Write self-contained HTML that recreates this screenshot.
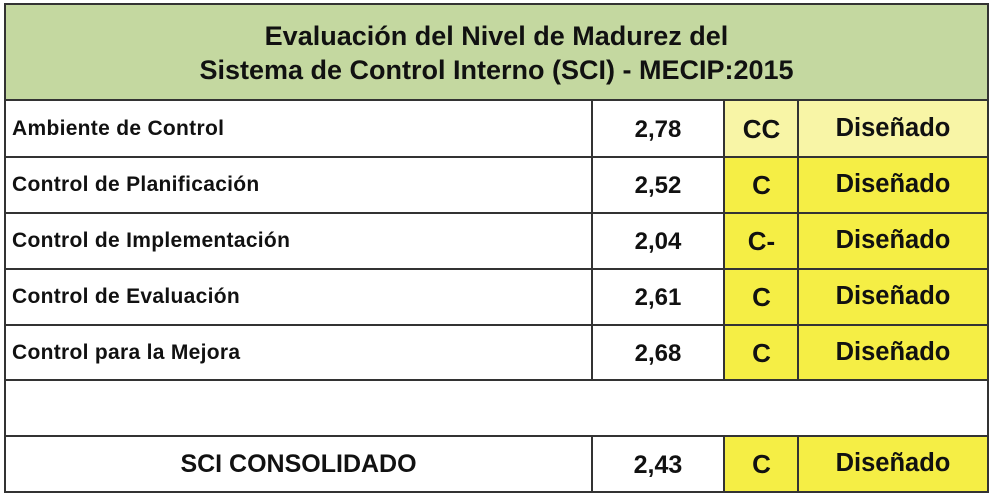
<!DOCTYPE html>
<html><head><meta charset="utf-8"><style>
body{margin:0;width:995px;height:497px;background:#fff;font-family:"Liberation Sans",sans-serif;font-weight:bold;color:#111;position:relative;overflow:hidden}
.b{position:absolute;box-sizing:border-box}
.t{position:absolute;white-space:nowrap}
</style></head><body>
<div class="b" style="left:4px;top:3px;width:985px;height:98px;background:#c4d8a0;border:2px solid #333"></div>
<div class="t" style="left:4px;width:985px;top:19px;text-align:center;font-size:27px;line-height:34px">Evaluación del Nivel de Madurez del<br>Sistema de Control Interno (SCI) - MECIP:2015</div>
<div class="b" style="left:4px;top:99px;width:985px;height:394px;border:2px solid #333;border-top:none"></div>
<div class="b" style="left:724px;top:101px;width:74px;height:55px;background:#f8f5a6"></div>
<div class="b" style="left:798px;top:101px;width:189px;height:55px;background:#f8f5a6"></div>
<div class="b" style="left:724px;top:156px;width:263px;height:224px;background:#f5ee45"></div>
<div class="b" style="left:724px;top:436px;width:263px;height:55px;background:#f5ee45"></div>
<div class="b" style="left:4px;top:156px;width:985px;height:2px;background:#333"></div>
<div class="b" style="left:4px;top:212px;width:985px;height:2px;background:#333"></div>
<div class="b" style="left:4px;top:268px;width:985px;height:2px;background:#333"></div>
<div class="b" style="left:4px;top:324px;width:985px;height:2px;background:#333"></div>
<div class="b" style="left:4px;top:379px;width:985px;height:2px;background:#333"></div>
<div class="b" style="left:4px;top:435px;width:985px;height:2px;background:#333"></div>
<div class="b" style="left:591px;top:100px;width:2px;height:281px;background:#333"></div>
<div class="b" style="left:723px;top:100px;width:2px;height:281px;background:#333"></div>
<div class="b" style="left:797px;top:100px;width:2px;height:281px;background:#333"></div>
<div class="b" style="left:591px;top:436px;width:2px;height:56px;background:#333"></div>
<div class="b" style="left:723px;top:436px;width:2px;height:56px;background:#333"></div>
<div class="b" style="left:797px;top:436px;width:2px;height:56px;background:#333"></div>
<div class="t" style="left:12px;top:117px;font-size:21px;letter-spacing:0.3px">Ambiente de Control</div>
<div class="t" style="left:12px;top:173px;font-size:21px;letter-spacing:0.3px">Control de Planificación</div>
<div class="t" style="left:12px;top:229px;font-size:21px;letter-spacing:0.3px">Control de Implementación</div>
<div class="t" style="left:12px;top:285px;font-size:21px;letter-spacing:0.3px">Control de Evaluación</div>
<div class="t" style="left:12px;top:341px;font-size:21px;letter-spacing:0.3px">Control para la Mejora</div>
<div class="t" style="left:6px;width:585px;text-align:center;top:450px;font-size:25px">SCI CONSOLIDADO</div>
<div class="t" style="left:593px;width:130px;text-align:center;top:116px;font-size:24px">2,78</div>
<div class="t" style="left:593px;width:130px;text-align:center;top:172px;font-size:24px">2,52</div>
<div class="t" style="left:593px;width:130px;text-align:center;top:228px;font-size:24px">2,04</div>
<div class="t" style="left:593px;width:130px;text-align:center;top:284px;font-size:24px">2,61</div>
<div class="t" style="left:593px;width:130px;text-align:center;top:340px;font-size:24px">2,68</div>
<div class="t" style="left:593px;width:130px;text-align:center;top:451px;font-size:25px">2,43</div>
<div class="t" style="left:725px;width:73px;text-align:center;top:114px;font-size:26px">CC</div>
<div class="t" style="left:725px;width:73px;text-align:center;top:170px;font-size:26px">C</div>
<div class="t" style="left:725px;width:73px;text-align:center;top:226px;font-size:26px">C-</div>
<div class="t" style="left:725px;width:73px;text-align:center;top:282px;font-size:26px">C</div>
<div class="t" style="left:725px;width:73px;text-align:center;top:338px;font-size:26px">C</div>
<div class="t" style="left:725px;width:73px;text-align:center;top:449px;font-size:26px">C</div>
<div class="t" style="left:799px;width:188px;text-align:center;top:114px;font-size:25.5px">Diseñado</div>
<div class="t" style="left:799px;width:188px;text-align:center;top:170px;font-size:25.5px">Diseñado</div>
<div class="t" style="left:799px;width:188px;text-align:center;top:226px;font-size:25.5px">Diseñado</div>
<div class="t" style="left:799px;width:188px;text-align:center;top:282px;font-size:25.5px">Diseñado</div>
<div class="t" style="left:799px;width:188px;text-align:center;top:338px;font-size:25.5px">Diseñado</div>
<div class="t" style="left:799px;width:188px;text-align:center;top:449px;font-size:25.5px">Diseñado</div>
</body></html>
